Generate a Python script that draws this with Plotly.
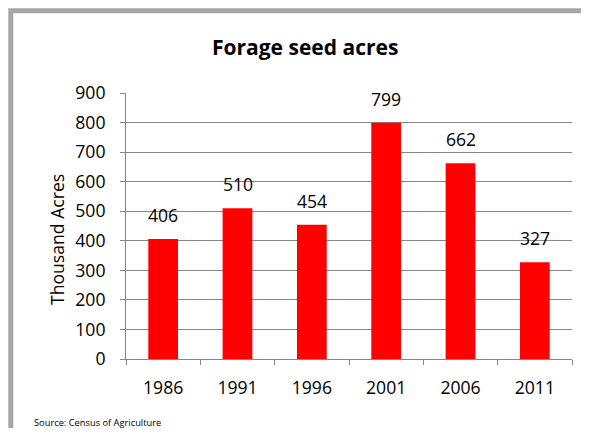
import plotly.graph_objects as go

years = ["1986", "1991", "1996", "2001", "2006", "2011"]
acres = [406, 510, 454, 799, 662, 327]
y_ticks = [0, 100, 200, 300, 400, 500, 600, 700, 800, 900]

# page has an 8px body margin; coordinates below are figure pixels
W, H = 581, 420
L, R, T, B = 118, 564, 85, 351
pw, ph = R - L, B - T

def px(x):
    return (x - L) / pw

def py(y):
    return 1 - (y - T) / ph

FONT = "Open Sans"
grid = "#878787"
TICK = 17.6

fig = go.Figure(go.Bar(
    x=years, y=acres,
    marker=dict(color="#ff0000", line=dict(width=0)),
    width=0.4, hoverinfo="x+y",
))

# value labels above bars (category index positions on the category axis)
label_annots = [
    dict(x=i, y=v, xref="x", yref="y", text=str(v), showarrow=False,
         xanchor="center", yanchor="bottom", yshift=10,
         font=dict(family=FONT, size=TICK, color="#000000"))
    for i, v in enumerate(acres)
]

bx0, by_top = px(2.8), py(2.8)
bx1, by_bot = px(W + 40), py(H + 40)
border_path = f"M {bx0},{by_bot} L {bx0},{by_top} L {bx1},{by_top}"

fig.update_layout(
    width=W, height=H,
    margin=dict(l=L, r=W - R, t=T, b=H - B, pad=0),
    paper_bgcolor="white", plot_bgcolor="white",
    showlegend=False,
    font=dict(family=FONT, size=TICK, color="#000000"),
    xaxis=dict(
        type="category", categoryorder="array", categoryarray=years,
        range=[-0.5, len(years) - 0.5],
        showgrid=False, showline=True, linecolor=grid, linewidth=1,
        ticks="outside", tickson="boundaries", ticklen=5, tickcolor=grid,
        ticklabelstandoff=13,
        tickfont=dict(family=FONT, size=TICK, color="#000000"),
    ),
    yaxis=dict(
        range=[0, 900], tickvals=y_ticks, showgrid=True, gridcolor=grid, gridwidth=1,
        showline=True, linecolor=grid, linewidth=1, zeroline=False,
        ticks="outside", ticklen=5, tickcolor=grid,
        ticklabelstandoff=11,
        tickfont=dict(family=FONT, size=TICK, color="#000000"),
    ),
    shapes=[dict(
        type="path", xref="paper", yref="paper", path=border_path,
        line=dict(color="#a6a6a6", width=5), layer="below",
    )],
    annotations=label_annots + [
        dict(text="<b>Forage seed acres</b>", xref="paper", yref="paper",
             x=px(296.5), y=py(39), xanchor="center", yanchor="middle",
             showarrow=False, font=dict(family=FONT, size=21, color="#000000")),
        dict(text="Thousand Acres", xref="paper", yref="paper",
             x=px(49), y=py(232), xanchor="center", yanchor="middle",
             textangle=-90, showarrow=False,
             font=dict(family=FONT, size=TICK, color="#000000")),
        dict(text="Source: Census of Agriculture", xref="paper", yref="paper",
             x=px(23.7), y=py(414), xanchor="left", yanchor="middle",
             showarrow=False, font=dict(family=FONT, size=9.3, color="#000000")),
    ],
)

fig.write_html("out.html")
